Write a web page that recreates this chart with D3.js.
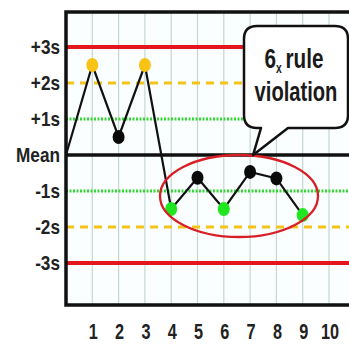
<!DOCTYPE html>
<html><head><meta charset="utf-8">
<script src="https://cdn.jsdelivr.net/npm/d3@7"></script>
<style>
html,body{margin:0;padding:0;background:#fff;}
svg{display:block;}
</style></head>
<body>
<svg id="c" width="349" height="344"></svg>
<script>
const runs = [0,1,2,3,4,5,6,7,8,9];
const values = [0,2.5,0.5,2.5,-1.5,-0.63,-1.5,-0.47,-0.65,-1.67];
const xTicks = [1,2,3,4,5,6,7,8,9,10];
const limitValues = [3,2,1,0,-1,-2,-3];
const limitLabels = ["+3s","+2s","+1s","Mean","-1s","-2s","-3s"];
const calloutLines = ["rule","violation"];

(function(){
const svg = d3.select("#c");
const font = "'Liberation Sans',Arial,sans-serif";
const x = d3.scaleLinear().domain([0,10]).range([66,329]);
const y = d3.scaleLinear().domain([-3,3]).range([263,47]);
const pTop = 12, pBottom = 305, pRight = 360;
const sx = 0.74;

svg.append("rect").attr("x",x(0)).attr("y",pTop).attr("width",pRight-x(0)).attr("height",pBottom-pTop).attr("fill","#fbfefe");

svg.append("g").selectAll("line").data(xTicks).join("line")
  .attr("x1",d=>x(d)).attr("x2",d=>x(d)).attr("y1",pTop).attr("y2",pBottom)
  .attr("stroke","#c3d8cf").attr("stroke-width",1.2);

const style = v => {
  const a = Math.abs(v);
  if (a===3) return {c:"#e3161d",w:4,d:null};
  if (a===2) return {c:"#f4c41c",w:3,d:"8,6"};
  if (a===1) return {c:"#33d633",w:3,d:"2,1.5"};
  return {c:"#111",w:3.5,d:null};
};
svg.append("g").selectAll("line").data(limitValues).join("line")
  .attr("x1",x(0)).attr("x2",pRight).attr("y1",d=>y(d)).attr("y2",d=>y(d))
  .attr("stroke",d=>style(d).c).attr("stroke-width",d=>style(d).w)
  .attr("stroke-dasharray",d=>style(d).d);

svg.append("path").attr("d",`M${pRight},${pTop}H${x(0)}V${pBottom}H${pRight}`)
  .attr("fill","none").attr("stroke","#111").attr("stroke-width",3.5);

svg.append("g").selectAll("text").data(limitValues).join("text")
  .attr("transform",d=>`translate(60,${y(d)}) scale(0.86,1)`)
  .attr("dy","0.36em")
  .attr("text-anchor","end").attr("font-family",font).attr("font-weight","bold")
  .attr("font-size",20).attr("fill","#222")
  .text((d,i)=>limitLabels[i]);

svg.append("g").selectAll("text").data(xTicks).join("text")
  .attr("transform",d=>`translate(${x(d)+1},339) scale(${sx},1)`)
  .attr("text-anchor","middle").attr("font-family",font).attr("font-weight","bold")
  .attr("font-size",22).attr("fill","#222")
  .text(d=>d);

const pts = runs.map((r,i)=>({r, v:values[i]}));
svg.append("path").datum(pts)
  .attr("d",d3.line().x(d=>x(d.r)).y(d=>y(d.v)))
  .attr("fill","none").attr("stroke","#111").attr("stroke-width",2.2);

const col = v => Math.abs(v)>=2 ? "#f7c415" : Math.abs(v)>=1 ? "#1fe61f" : "#0a0a0a";
svg.append("g").selectAll("ellipse").data(pts.slice(1)).join("ellipse")
  .attr("cx",d=>x(d.r)).attr("cy",d=>y(d.v)).attr("rx",6).attr("ry",7)
  .attr("fill",d=>col(d.v));

svg.append("ellipse").attr("cx",239).attr("cy",196).attr("rx",79).attr("ry",41)
  .attr("fill","none").attr("stroke","#d81f26").attr("stroke-width",2.3);

const L=244,T=26,R=348,B=128,r=13;
const tipX = x(7)+3, tipY = y(0);
const calloutPath = `M${L+r},${T}H${R-r}Q${R},${T} ${R},${T+r}V${B-r}Q${R},${B} ${R-r},${B}`+
  `H288L${tipX},${tipY}L261,${B}H${L+r}Q${L},${B} ${L},${B-r}V${T+r}Q${L},${T} ${L+r},${T}Z`;
svg.append("path").attr("d",calloutPath).attr("fill","#fff").attr("stroke","#111").attr("stroke-width",2.5).attr("stroke-linejoin","round");

const t1 = svg.append("text").attr("transform",`translate(294,68) scale(${sx},1)`)
  .attr("text-anchor","middle")
  .attr("font-family",font).attr("font-weight","bold").attr("fill","#1a1a1a");
t1.append("tspan").attr("font-size",28).text("6");
t1.append("tspan").attr("font-size",14).attr("dy",5).text("x");
t1.append("tspan").attr("font-size",28).attr("dy",-5).attr("dx",5).text(calloutLines[0]);
svg.append("text").attr("transform",`translate(296,101) scale(0.72,1)`).attr("text-anchor","middle")
  .attr("font-family",font).attr("font-weight","bold").attr("font-size",28).attr("fill","#1a1a1a")
  .text(calloutLines[1]);
})();
</script>
</body></html>
